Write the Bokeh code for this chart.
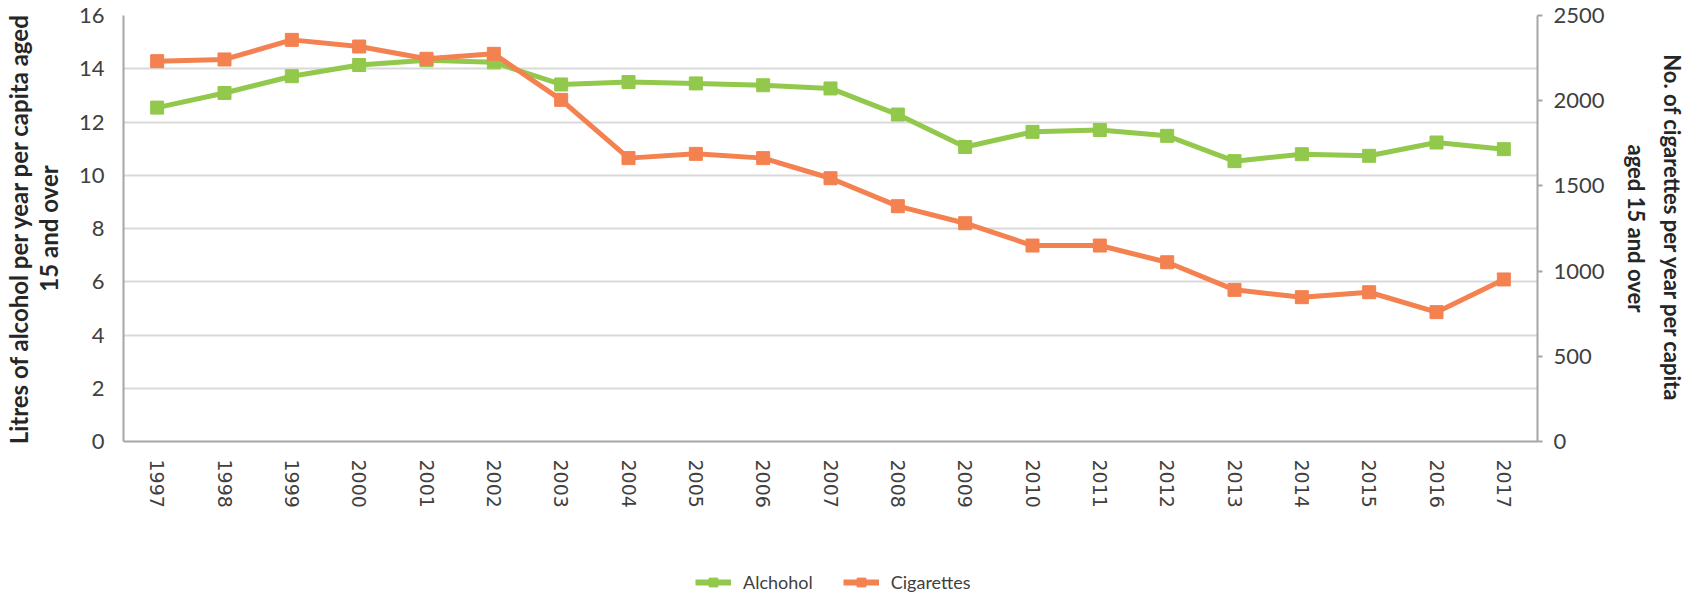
from bokeh.plotting import figure
from bokeh.layouts import column
from bokeh.models import (ColumnDataSource, FactorRange, Range1d, LinearAxis,
                          FixedTicker, Legend, LegendItem)
from bokeh.embed import file_html
from bokeh.resources import INLINE

years = [str(y) for y in range(1997, 2018)]
alcohol = [12.54, 13.09, 13.72, 14.14, 14.32, 14.24, 13.41, 13.50, 13.45, 13.38,
           13.26, 12.28, 11.06, 11.63, 11.70, 11.48, 10.53, 10.79, 10.73, 11.23, 10.98]
cigarettes = [2232, 2242, 2357, 2318, 2246, 2275, 2005, 1663, 1688, 1663,
              1545, 1381, 1281, 1150, 1150, 1052, 890, 847, 876, 759, 951]
left_ticks = [0, 2, 4, 6, 8, 10, 12, 14, 16]
right_ticks = [0, 500, 1000, 1500, 2000, 2500]
series_names = ["Alchohol", "Cigarettes"]

GREEN = "#92C84B"
ORANGE = "#F48150"
AXIS = "#A6A6A6"
GRID = "#D9D9D9"
TICK_TXT = "#404040"
TITLE_TXT = "#262626"

src = ColumnDataSource(dict(year=years, alc=alcohol, cig=cigarettes))

p = figure(width=1694, height=530, output_backend="svg", toolbar_location=None,
           x_range=FactorRange(*years, range_padding=0),
           y_range=Range1d(0, 16),
           min_border_left=122, min_border_right=157,
           min_border_top=15, min_border_bottom=89)
p.extra_y_ranges = {"cig": Range1d(0, 2500)}
p.outline_line_color = None
p.background_fill_color = "white"
p.border_fill_color = "white"

p.xgrid.grid_line_color = None
p.ygrid.grid_line_color = GRID
p.ygrid.grid_line_width = 2
p.ygrid.ticker = FixedTicker(ticks=left_ticks)

# left axis
ya = p.yaxis[0]
ya.ticker = FixedTicker(ticks=left_ticks)
ya.axis_line_color = AXIS
ya.axis_line_width = 2
ya.major_tick_line_color = None
ya.minor_tick_line_color = None
ya.major_label_text_font = "Lato"
ya.major_label_text_font_size = "22px"
ya.major_label_text_color = TICK_TXT
ya.major_label_standoff = 13
ya.axis_label = "Litres of alcohol per year per capita aged\n15 and over"
ya.axis_label_text_font = "Lato"
ya.axis_label_text_font_style = "bold"
ya.axis_label_text_font_size = "24px"
ya.axis_label_text_color = TITLE_TXT
ya.axis_label_standoff = 13
ya.axis_label_text_line_height = 1.05

# bottom axis
xa = p.xaxis[0]
xa.axis_line_color = AXIS
xa.axis_line_width = 2
xa.major_tick_line_color = None
xa.minor_tick_line_color = None
xa.major_label_orientation = "vertical"
xa.major_label_text_font = "DejaVu Sans"
xa.major_label_text_font_size = "19px"
xa.major_label_text_color = TICK_TXT
xa.major_label_standoff = 12

# right axis
ra = LinearAxis(y_range_name="cig", ticker=FixedTicker(ticks=right_ticks))
ra.axis_line_color = AXIS
ra.axis_line_width = 2
ra.major_tick_line_color = AXIS
ra.major_tick_line_width = 2
ra.major_tick_out = 5
ra.major_tick_in = 0
ra.minor_tick_line_color = None
ra.major_label_text_font = "Lato"
ra.major_label_text_font_size = "22px"
ra.major_label_text_color = TICK_TXT
ra.major_label_standoff = 11
ra.axis_label = "No. of cigarettes per year per capita\naged 15 and over"
ra.axis_label_text_font = "Lato"
ra.axis_label_text_font_style = "bold"
ra.axis_label_text_font_size = "22px"
ra.axis_label_text_color = TITLE_TXT
ra.axis_label_standoff = 15
ra.axis_label_text_line_height = 1.35
p.add_layout(ra, "right")

p.line("year", "alc", source=src, line_color=GREEN, line_width=5, line_join="round")
p.scatter("year", "alc", source=src, marker="square", size=13,
          fill_color=GREEN, line_color=GREEN)
p.line("year", "cig", source=src, y_range_name="cig", line_color=ORANGE,
       line_width=5, line_join="round")
p.scatter("year", "cig", source=src, y_range_name="cig", marker="square", size=13,
          fill_color=ORANGE, line_color=ORANGE)

# legend strip below the chart (its renderers are hidden; only the legend shows)
lg = figure(width=1694, height=65, output_backend="svg", toolbar_location=None,
            x_range=FactorRange(*years), y_range=Range1d(0, 1),
            x_axis_location=None, y_axis_location=None,
            min_border=0, min_border_left=0, min_border_right=0,
            min_border_top=0, min_border_bottom=0)
lg.grid.visible = False
lg.outline_line_color = None
items = []
for name, field, col in zip(series_names, ["alc", "cig"], [GREEN, ORANGE]):
    r1 = lg.line("year", field, source=src, line_color=col, line_width=6, visible=False)
    r2 = lg.scatter("year", field, source=src, marker="square", size=11,
                    fill_color=col, line_color=col, visible=False)
    items.append(LegendItem(label=name, renderers=[r1, r2]))
legend = Legend(items=items, orientation="horizontal", location=(572, 2),
                label_text_font="Lato", label_text_font_size="18px",
                label_text_color=TICK_TXT, glyph_width=36, glyph_height=22,
                label_standoff=12, spacing=30, padding=0, margin=0,
                inactive_fill_alpha=0, click_policy="none",
                border_line_color=None, background_fill_alpha=0)
lg.add_layout(legend, "center")

open("out.html", "w").write(file_html(column(p, lg, spacing=0), INLINE))
